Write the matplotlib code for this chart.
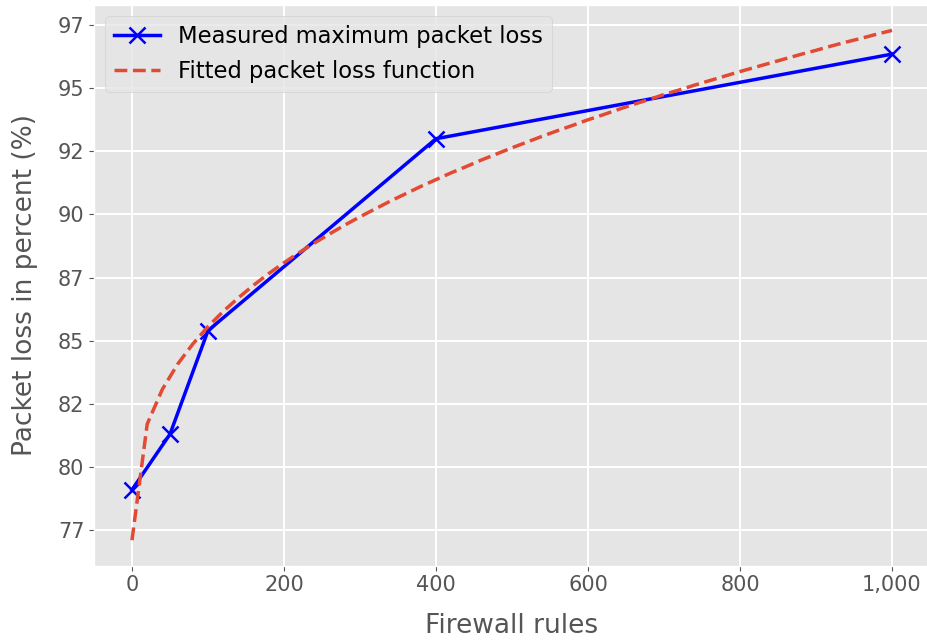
import matplotlib
matplotlib.use("Agg")
import matplotlib.pyplot as plt
from matplotlib.ticker import FuncFormatter, MultipleLocator

plt.style.use("ggplot")

# Measured maximum packet loss per number of firewall rules
rules = [0, 50, 100, 400, 1000]
measured_loss = [79.1, 81.3, 85.4, 93.0, 96.35]

# Fitted packet loss function, sampled every 20 rules
fit_rules = list(range(0, 1001, 20))
fit_loss = [
    77.10, 81.70, 83.08, 84.07, 84.87, 85.56, 86.16, 86.70, 87.20, 87.66,
    88.09, 88.49, 88.87, 89.23, 89.58, 89.91, 90.22, 90.53, 90.82, 91.11,
    91.38, 91.65, 91.90, 92.16, 92.40, 92.64, 92.87, 93.10, 93.32, 93.53,
    93.75, 93.95, 94.16, 94.36, 94.55, 94.75, 94.93, 95.12, 95.30, 95.48,
    95.66, 95.83, 96.00, 96.17, 96.34, 96.50, 96.67, 96.83, 96.98, 97.14,
    97.29,
]

fig = plt.figure(figsize=(9.28, 6.41), dpi=100)
ax = fig.add_axes([94 / 928, 1 - 565.7 / 641, 836 / 928, 560.8 / 641])
ax.grid(True, color="white", linewidth=1.4)

ax.plot(rules, measured_loss, color="blue", marker="x", markersize=11,
        markeredgewidth=1.8, linewidth=2.5, label="Measured maximum packet loss")
ax.plot(fit_rules, fit_loss, color="#E24A33", linestyle="--", linewidth=2.5,
        label="Fitted packet loss function")

ax.yaxis.set_major_locator(MultipleLocator(2.5))
ax.yaxis.set_major_formatter(FuncFormatter(lambda v, p: f"{int(v)}"))
ax.xaxis.set_major_formatter(FuncFormatter(lambda v, p: f"{v:,.0f}"))

ax.tick_params(axis="both", labelsize=15, colors="#555555")

ax.set_xlabel("Firewall rules", fontsize=19, color="#555555", labelpad=13)
ax.set_ylabel("Packet loss in percent (%)", fontsize=19, color="#555555", labelpad=14)

ax.legend(loc="upper left", fontsize=16.3)

fig.savefig("out.png", dpi=100)
